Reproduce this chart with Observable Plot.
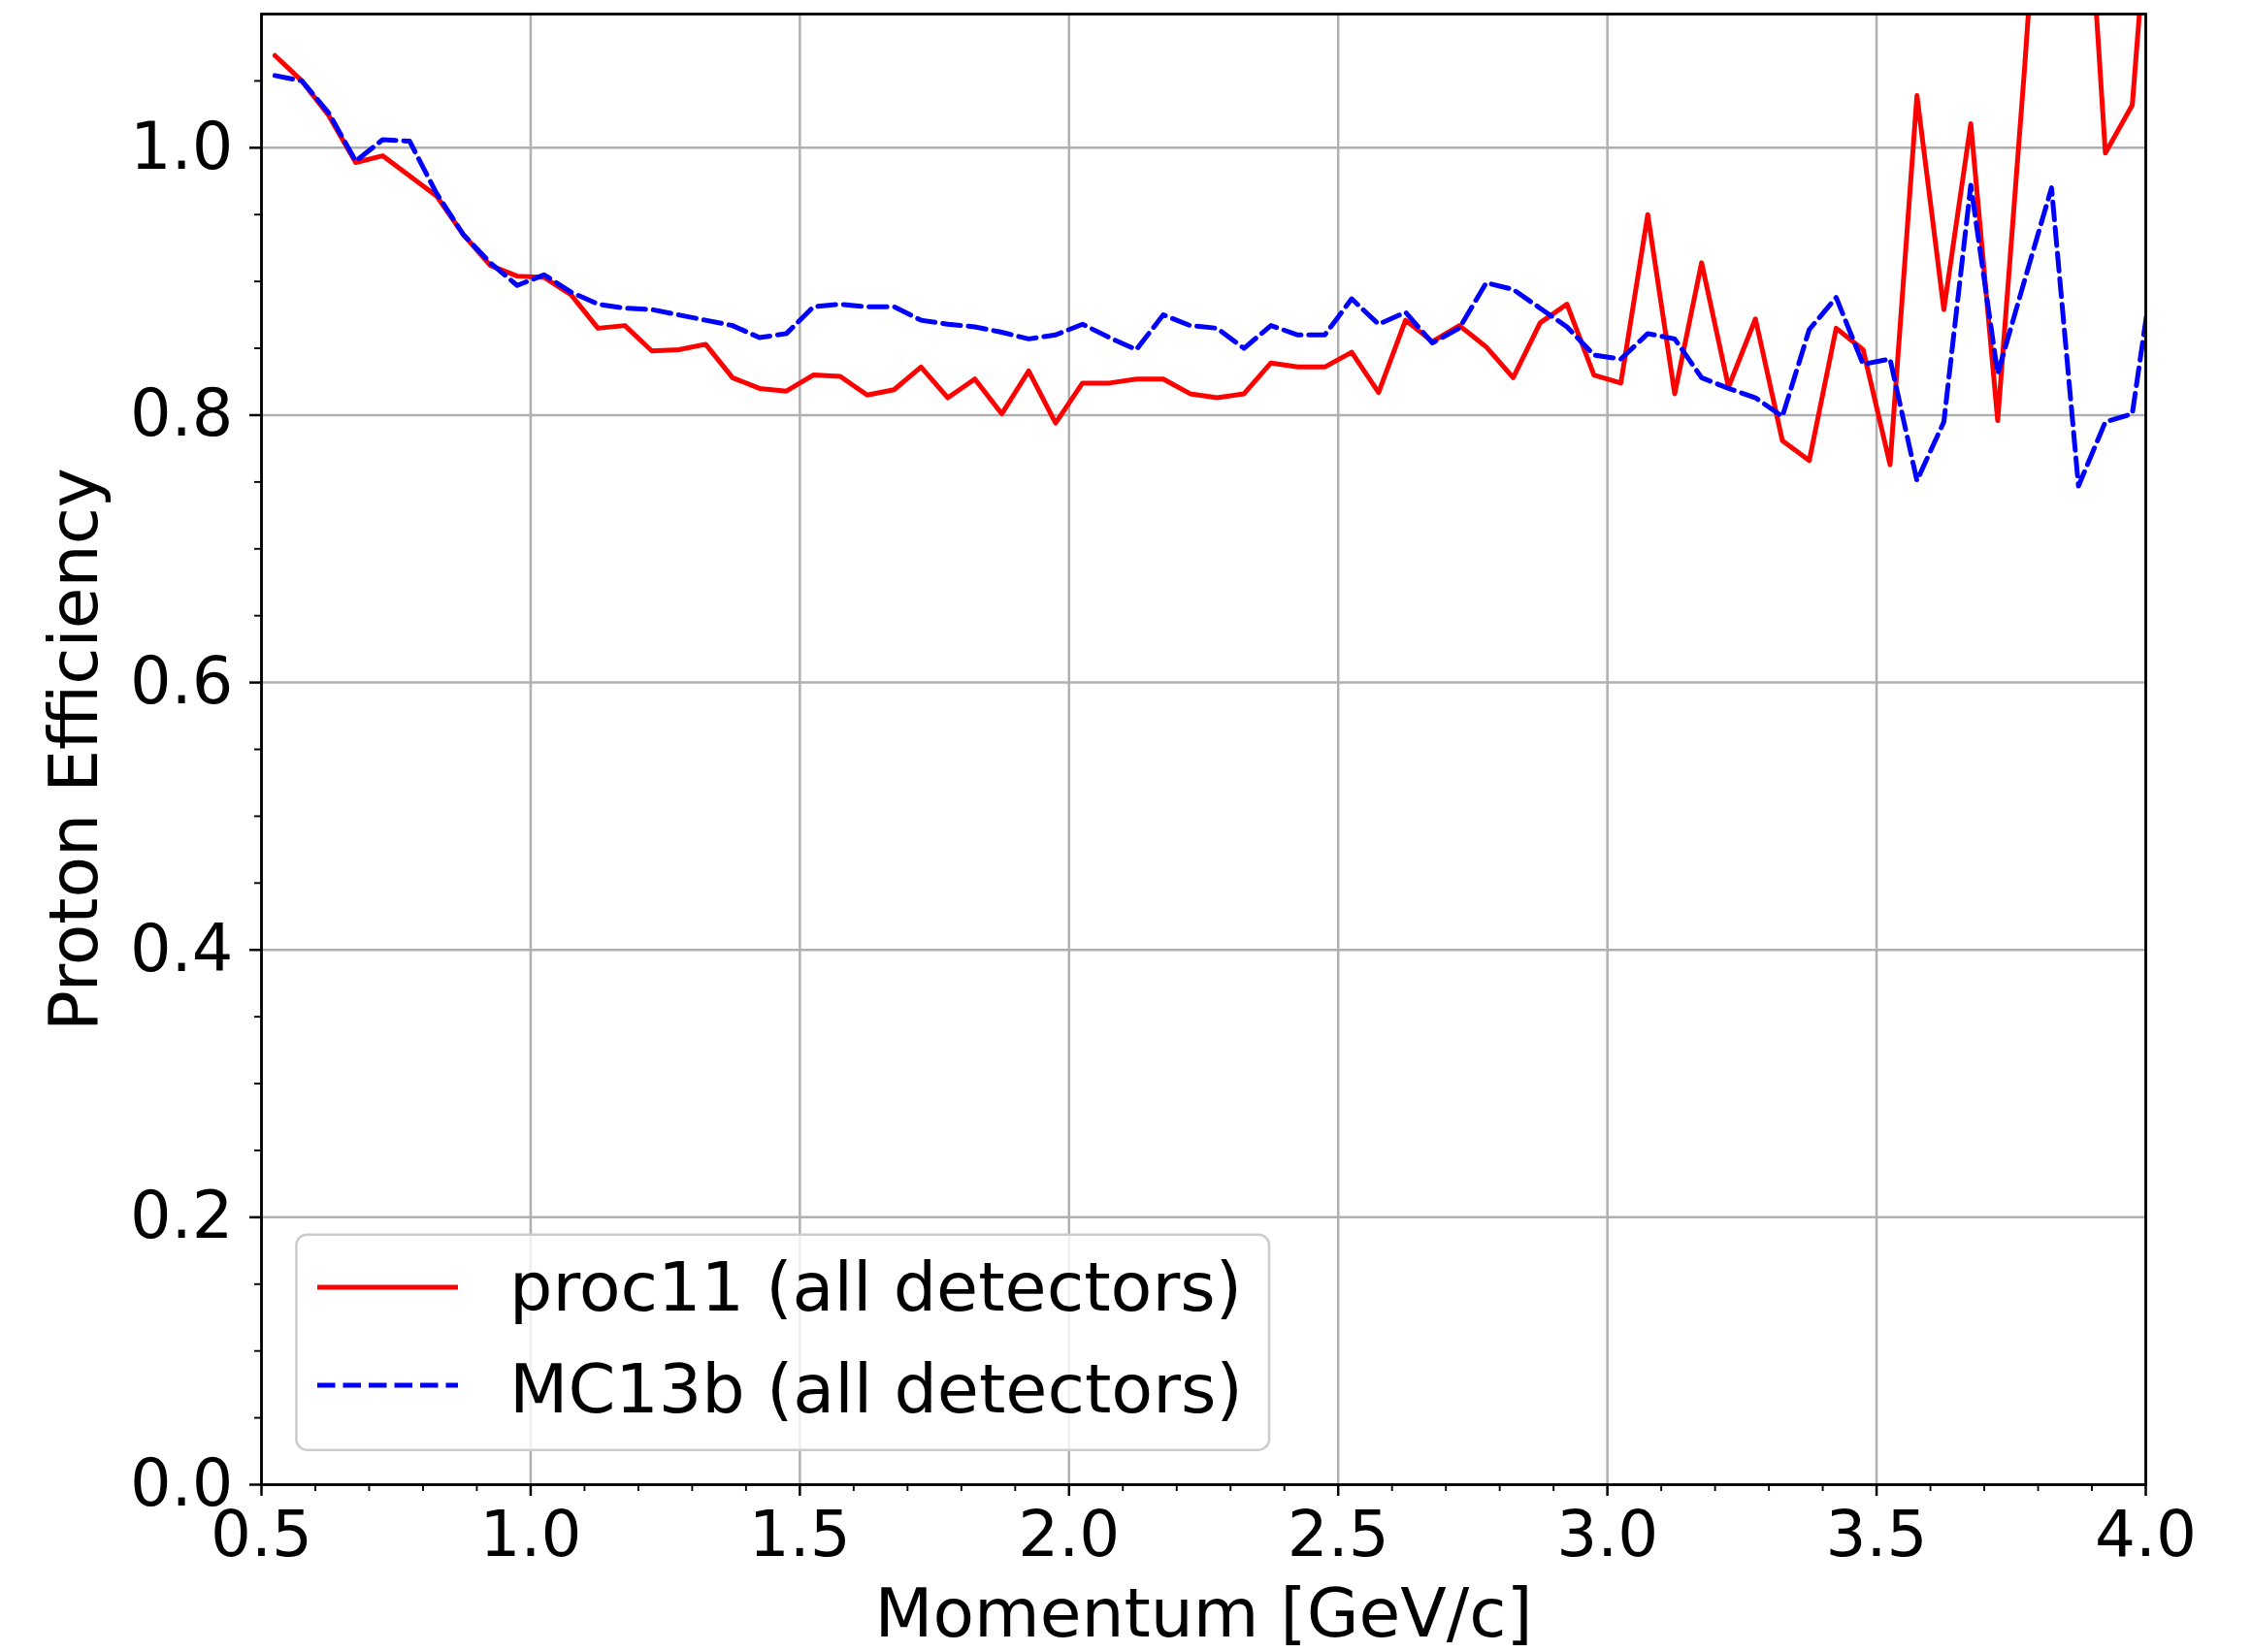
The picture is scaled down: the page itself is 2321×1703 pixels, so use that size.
<!DOCTYPE html>
<html>
<head>
<meta charset="utf-8">
<script src="https://cdn.jsdelivr.net/npm/d3@7"></script>
<script src="https://cdn.jsdelivr.net/npm/@observablehq/plot@0.6"></script>
<style>
  html, body { margin: 0; padding: 0; background: white; }
  #wrap { position: relative; width: 2321px; height: 1703px; }
  #legend { position: absolute; left: 300px; top: 1268px; }
</style>
</head>
<body>
<div id="wrap"></div>
<script>
// Bin centres: 0.525 GeV/c in 0.05 steps (last point lies just past the axis)
const momentum = d3.range(71).map(k => +(0.525 + 0.05 * k).toFixed(3));

const proc11 = [
  1.069, 1.050, 1.024, 0.989, 0.994, 0.979, 0.964, 0.935, 0.912, 0.904,
  0.903, 0.890, 0.865, 0.867, 0.848, 0.849, 0.853, 0.828, 0.820, 0.818,
  0.830, 0.829, 0.815, 0.819, 0.836, 0.813, 0.827, 0.801, 0.833, 0.794,
  0.824, 0.824, 0.827, 0.827, 0.816, 0.813, 0.816, 0.839, 0.836, 0.836,
  0.847, 0.817, 0.871, 0.855, 0.867, 0.851, 0.828, 0.869, 0.883, 0.830,
  0.824, 0.950, 0.816, 0.914, 0.821, 0.872, 0.781, 0.766, 0.865, 0.849,
  0.763, 1.039, 0.879, 1.018, 0.796, 1.060, 1.350, 1.310, 0.996, 1.032,
  1.290
];

const mc13b = [
  1.054, 1.050, 1.026, 0.990, 1.006, 1.005, 0.966, 0.935, 0.914, 0.897,
  0.905, 0.892, 0.883, 0.880, 0.879, 0.875, 0.871, 0.867, 0.858, 0.861,
  0.881, 0.883, 0.881, 0.881, 0.871, 0.868, 0.866, 0.862, 0.857, 0.860,
  0.868, 0.858, 0.849, 0.875, 0.867, 0.865, 0.850, 0.867, 0.860, 0.860,
  0.887, 0.868, 0.877, 0.854, 0.865, 0.899, 0.894, 0.880, 0.866, 0.845,
  0.842, 0.861, 0.857, 0.828, 0.820, 0.813, 0.799, 0.864, 0.888, 0.838,
  0.842, 0.751, 0.795, 0.972, 0.831, 0.901, 0.970, 0.747, 0.795, 0.801,
  0.940
];

const seriesNames = ["proc11 (all detectors)", "MC13b (all detectors)"];
const xTicks = [0.5, 1.0, 1.5, 2.0, 2.5, 3.0, 3.5, 4.0];
const xMinorTicks = d3.range(6, 40).map(i => i / 10).filter(v => Math.abs(v * 2 - Math.round(v * 2)) > 1e-9);
const yTicks = [0.0, 0.2, 0.4, 0.6, 0.8, 1.0];
const yMinorTicks = d3.range(1, 22).map(i => +(i * 0.05).toFixed(2)).filter(v => Math.abs(v * 5 - Math.round(v * 5)) > 1e-9);
const xLabel = "Momentum [GeV/c]";
const yLabel = "Proton Efficiency";

const redData = momentum.map((m, i) => ({m, v: proc11[i]}));
const blueData = momentum.map((m, i) => ({m, v: mc13b[i]}));

const FONT = "DejaVu Sans";
const dash = "18.5,8";

const chart = Plot.plot({
  width: 2321,
  height: 1703,
  marginLeft: 269,
  marginRight: 110,
  marginTop: 14,
  marginBottom: 173,
  x: {domain: [0.5, 4.0]},
  y: {domain: [0, 1.1]},
  style: {fontFamily: FONT, fontSize: "66px", background: "white", color: "black"},
  marks: [
    Plot.gridX(xTicks, {stroke: "#b0b0b0", strokeOpacity: 1, strokeWidth: 2.5}),
    Plot.gridY(yTicks, {stroke: "#b0b0b0", strokeOpacity: 1, strokeWidth: 2.5}),
    Plot.line(redData, {x: "m", y: "v", stroke: "#ff0000", strokeWidth: 5, clip: true}),
    Plot.line(blueData, {x: "m", y: "v", stroke: "#0000ff", strokeWidth: 5, strokeDasharray: dash, clip: true}),
    Plot.frame({stroke: "#000", strokeWidth: 2.8}),
    Plot.axisX(xTicks, {tickSize: 12, tickPadding: 15, tickFormat: d3.format(".1f"), label: null, fontSize: 66, strokeWidth: 2.5}),
    Plot.axisX(xMinorTicks, {tickSize: 7, tickFormat: () => "", label: null, strokeWidth: 1.9}),
    Plot.axisY(yTicks, {tickSize: 12, tickPadding: 17, tickFormat: d3.format(".1f"), label: null, fontSize: 67, strokeWidth: 2.5}),
    Plot.axisY(yMinorTicks, {tickSize: 7, tickFormat: () => "", label: null, strokeWidth: 1.9}),
    Plot.text([xLabel], {frameAnchor: "bottom", dy: 134, lineAnchor: "middle", textAnchor: "middle", fontSize: 69.5, fill: "black"}),
    Plot.text([yLabel], {frameAnchor: "left", dx: -192, rotate: -90, lineAnchor: "middle", textAnchor: "middle", fontSize: 69.5, fill: "black"})
  ]
});

const wrap = document.getElementById("wrap");
wrap.appendChild(chart);

// Legend (matplotlib-style box, lower left inside the axes)
const NS = "http://www.w3.org/2000/svg";
const leg = document.createElementNS(NS, "svg");
leg.setAttribute("id", "legend");
leg.setAttribute("width", 1015);
leg.setAttribute("height", 235);
leg.style.fontFamily = FONT;
const box = document.createElementNS(NS, "rect");
box.setAttribute("x", 5.4); box.setAttribute("y", 4.7);
box.setAttribute("width", 1002.6); box.setAttribute("height", 222);
box.setAttribute("rx", 11);
box.setAttribute("fill", "white"); box.setAttribute("fill-opacity", 0.8);
box.setAttribute("stroke", "#cccccc"); box.setAttribute("stroke-width", 2.5);
leg.appendChild(box);
const rows = [
  {name: seriesNames[0], color: "#ff0000", dash: null, ly: 59, ty: 83},
  {name: seriesNames[1], color: "#0000ff", dash: dash, ly: 160, ty: 188}
];
rows.forEach(r => {
  const ln = document.createElementNS(NS, "line");
  ln.setAttribute("x1", 27); ln.setAttribute("x2", 172);
  ln.setAttribute("y1", r.ly); ln.setAttribute("y2", r.ly);
  ln.setAttribute("stroke", r.color); ln.setAttribute("stroke-width", 5);
  if (r.dash) ln.setAttribute("stroke-dasharray", r.dash);
  leg.appendChild(ln);
  const tx = document.createElementNS(NS, "text");
  tx.setAttribute("x", 225); tx.setAttribute("y", r.ty);
  tx.setAttribute("font-size", 70);
  tx.setAttribute("fill", "black");
  tx.textContent = r.name;
  leg.appendChild(tx);
});
wrap.appendChild(leg);
</script>
</body>
</html>
